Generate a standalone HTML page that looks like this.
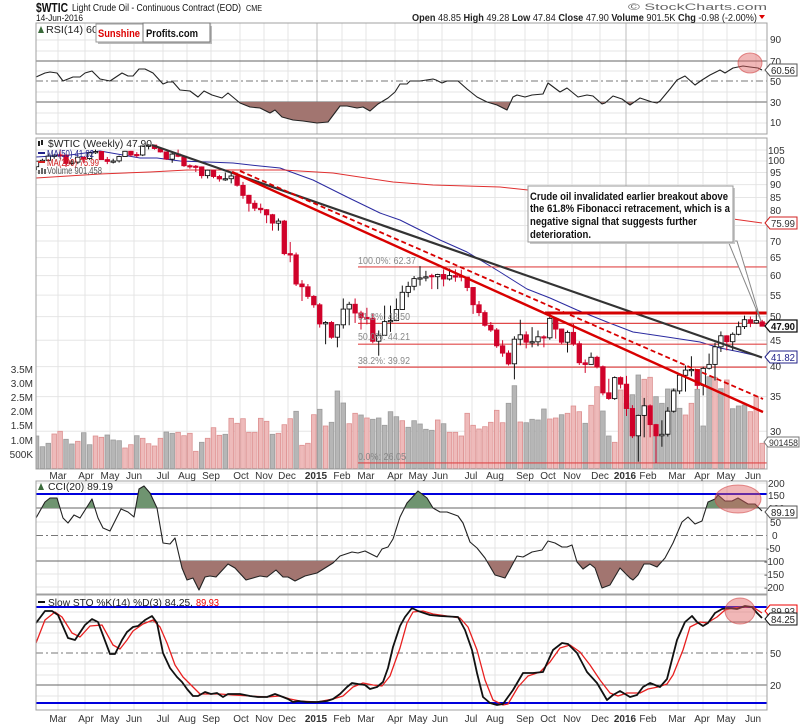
<!DOCTYPE html>
<html><head><meta charset="utf-8">
<style>
html,body{margin:0;padding:0;background:#fff;}
svg{display:block;font-family:"Liberation Sans",Arial,sans-serif;}
</style></head><body>
<svg id="c" width="800" height="725" viewBox="0 0 800 725" xmlns="http://www.w3.org/2000/svg">
<defs>
<clipPath id="rsiLow"><rect x="36" y="102" width="731" height="32"/></clipPath>
<clipPath id="cciHi"><rect x="36" y="481" width="731" height="27"/></clipPath>
<clipPath id="cciLow"><rect x="36" y="561" width="731" height="33"/></clipPath>
<clipPath id="mainC"><rect x="36" y="138" width="731" height="331"/></clipPath>
</defs>
<rect x="0" y="0" width="800" height="725" fill="#fff"/>
<g id="grid"></g>
<g id="lev"></g>
<g id="fill"></g>
<g id="vol" clip-path="url(#mainC)"></g>
<g id="ma" clip-path="url(#mainC)"></g>
<g id="fib"></g>
<g id="cand" clip-path="url(#mainC)"></g>
<g id="trend"></g>
<g id="ind"></g>
<g id="frame"></g>

<!-- circles -->
<ellipse cx="750" cy="63" rx="12" ry="10" fill="rgba(225,95,95,0.45)" stroke="rgba(210,70,70,0.6)" stroke-width="1"/>
<ellipse cx="738" cy="499" rx="23" ry="14" fill="rgba(225,95,95,0.45)" stroke="rgba(210,70,70,0.6)" stroke-width="1"/>
<ellipse cx="740" cy="611" rx="15" ry="13" fill="rgba(225,95,95,0.45)" stroke="rgba(210,70,70,0.6)" stroke-width="1"/>

<!-- callout -->
<polygon points="728,241 737,241 761,321" fill="#fff" stroke="#888" stroke-width="1"/>
<rect x="530" y="188" width="205" height="56" fill="#c8c8c8"/>
<rect x="528" y="186" width="205" height="56" fill="#fff" stroke="#999" stroke-width="1"/>
<g font-size="11" font-weight="bold" fill="#111">
<text x="530" y="200" textLength="198" lengthAdjust="spacingAndGlyphs">Crude oil invalidated earlier breakout above</text>
<text x="530" y="212" textLength="200" lengthAdjust="spacingAndGlyphs">the 61.8% Fibonacci retracement, which is a</text>
<text x="530" y="225" textLength="167" lengthAdjust="spacingAndGlyphs">negative signal that suggests further</text>
<text x="530" y="238" textLength="61" lengthAdjust="spacingAndGlyphs">deterioration.</text>
</g>

<!-- header -->
<text x="36" y="12" font-size="13" font-weight="bold" fill="#111" textLength="32" lengthAdjust="spacingAndGlyphs">$WTIC</text>
<text x="72" y="11" font-size="10" fill="#111" textLength="169" lengthAdjust="spacingAndGlyphs">Light Crude Oil - Continuous Contract (EOD)</text>
<text x="246" y="11" font-size="8" fill="#111" textLength="16" lengthAdjust="spacingAndGlyphs">CME</text>
<text x="36" y="21" font-size="9" fill="#111" textLength="47" lengthAdjust="spacingAndGlyphs">14-Jun-2016</text>
<text x="628" y="10" font-size="9" fill="#666" textLength="139" lengthAdjust="spacingAndGlyphs">© StockCharts.com</text>
<text x="412" y="21" font-size="10" fill="#222" textLength="345" lengthAdjust="spacingAndGlyphs"><tspan font-weight="bold">Open</tspan> 48.85 <tspan font-weight="bold">High</tspan> 49.28 <tspan font-weight="bold">Low</tspan> 47.84 <tspan font-weight="bold">Close</tspan> 47.90 <tspan font-weight="bold">Volume</tspan> 901.5K <tspan font-weight="bold">Chg</tspan> -0.98 (-2.00%)</text>
<polygon points="759,15 765,15 762,19" fill="#d00"/>

<!-- RSI label & logo -->
<polygon points="38,33 41,26 44,33" fill="#3a6a3a"/>
<text x="46" y="33" font-size="10" fill="#222" textLength="52" lengthAdjust="spacingAndGlyphs">RSI(14) 60</text>
<rect x="98" y="26" width="114" height="18" fill="#bbb"/>
<rect x="96" y="24" width="114" height="18" fill="#fff" stroke="#999"/>
<rect x="143" y="23" width="67" height="19" fill="#fff" stroke="#777"/>
<text x="98" y="37" font-size="11" font-weight="bold" fill="#d00" textLength="42" lengthAdjust="spacingAndGlyphs">Sunshine</text>
<text x="146" y="37" font-size="11" font-weight="bold" fill="#111" textLength="52" lengthAdjust="spacingAndGlyphs">Profits.com</text>

<!-- main legend -->
<g font-size="10">
<rect x="38" y="141" width="2" height="5" fill="#222"/><rect x="41" y="140" width="2" height="5" fill="#222"/>
<text x="48" y="147" fill="#222" textLength="104" lengthAdjust="spacingAndGlyphs">$WTIC (Weekly) 47.90</text>
<line x1="38" y1="153" x2="45" y2="153" stroke="#22228a" stroke-width="2"/>
<text x="47" y="157" fill="#22228a" textLength="47" lengthAdjust="spacingAndGlyphs">MA(50) 41.82</text>
<line x1="38" y1="162" x2="45" y2="162" stroke="#d02020" stroke-width="2"/>
<text x="47" y="166" fill="#d02020" textLength="52" lengthAdjust="spacingAndGlyphs">MA(200) 75.99</text>
<rect x="38" y="170" width="2" height="4" fill="#666"/><rect x="41" y="168" width="2" height="6" fill="#666"/><rect x="44" y="169" width="2" height="5" fill="#666"/>
<text x="47" y="174" fill="#555" textLength="55" lengthAdjust="spacingAndGlyphs">Volume 901,458</text>
</g>

<!-- fib labels -->
<g font-size="10" fill="#888">
<text x="358" y="264" textLength="58" lengthAdjust="spacingAndGlyphs">100.0%: 62.37</text>
<text x="358" y="320" textLength="52" lengthAdjust="spacingAndGlyphs">61.8%: 48.50</text>
<text x="358" y="340" textLength="52" lengthAdjust="spacingAndGlyphs">50.0%: 44.21</text>
<text x="358" y="364" textLength="52" lengthAdjust="spacingAndGlyphs">38.2%: 39.92</text>
<text x="358" y="460" textLength="48" lengthAdjust="spacingAndGlyphs">0.0%: 26.05</text>
</g>

<!-- CCI / STO labels -->
<polygon points="38,490 41,483 44,490" fill="#3a6a3a"/>
<text x="48" y="490" font-size="10" fill="#222" textLength="65" lengthAdjust="spacingAndGlyphs">CCI(20) 89.19</text>
<line x1="38" y1="602" x2="45" y2="602" stroke="#111" stroke-width="2"/>
<text x="48" y="606" font-size="10" fill="#222" textLength="145" lengthAdjust="spacingAndGlyphs">Slow STO %K(14) %D(3) 84.25,</text>
<text x="196" y="606" font-size="10" fill="#e00" textLength="23" lengthAdjust="spacingAndGlyphs">89.93</text>

<!-- right axis labels -->
<g font-size="10" fill="#333">
<text x="770" y="43">90</text>
<text x="770" y="65">70</text>
<text x="770" y="85">50</text>
<text x="770" y="106">30</text>
<text x="770" y="126">10</text>

<text x="768" y="154">105</text>
<text x="768" y="164">100</text>
<text x="770" y="176">95</text>
<text x="770" y="188">90</text>
<text x="770" y="201">85</text>
<text x="770" y="214">80</text>
<text x="770" y="245">70</text>
<text x="770" y="261">65</text>
<text x="770" y="279">60</text>
<text x="770" y="299">55</text>
<text x="770" y="320">50</text>
<text x="770" y="344">45</text>
<text x="770" y="370">40</text>
<text x="770" y="400">35</text>
<text x="770" y="435">30</text>

<text x="768" y="487">200</text>
<text x="768" y="499">150</text>
<text x="768" y="512">100</text>
<text x="770" y="526">50</text>
<text x="772" y="539">0</text>
<text x="766" y="552">-50</text>
<text x="764" y="565">-100</text>
<text x="764" y="578">-150</text>
<text x="764" y="591">-200</text>

<text x="770" y="657">50</text>
<text x="770" y="689">20</text>
</g>
<!-- volume axis -->
<g font-size="10" fill="#333" text-anchor="end">
<text x="33" y="373">3.5M</text>
<text x="33" y="387">3.0M</text>
<text x="33" y="401">2.5M</text>
<text x="33" y="415">2.0M</text>
<text x="33" y="429">1.5M</text>
<text x="33" y="444">1.0M</text>
<text x="33" y="458">500K</text>
</g>

<!-- tags -->
<g font-size="10">
<polygon points="765,70 770,64 797,64 797,76 770,76" fill="#fff" stroke="#555"/>
<text x="771" y="74" fill="#222" textLength="24" lengthAdjust="spacingAndGlyphs">60.56</text>
<polygon points="765,223 770,217 797,217 797,229 770,229" fill="#fff" stroke="#d02020"/>
<text x="771" y="227" fill="#333" textLength="24" lengthAdjust="spacingAndGlyphs">75.99</text>
<polygon points="765,326 770,320 797,320 797,332 770,332" fill="#fff" stroke="#111" stroke-width="1.3"/>
<text x="771" y="330" fill="#111" font-weight="bold" textLength="24" lengthAdjust="spacingAndGlyphs">47.90</text>
<polygon points="765,357 770,351 797,351 797,363 770,363" fill="#fff" stroke="#22228a"/>
<text x="771" y="361" fill="#22228a" textLength="24" lengthAdjust="spacingAndGlyphs">41.82</text>
<polygon points="764,442 768,437 799,437 799,447 768,447" fill="#fff" stroke="#777"/>
<text x="769" y="446" fill="#333" font-size="9" textLength="29" lengthAdjust="spacingAndGlyphs">901458</text>
<polygon points="765,512 770,506 797,506 797,518 770,518" fill="#fff" stroke="#555"/>
<text x="771" y="516" fill="#222" textLength="24" lengthAdjust="spacingAndGlyphs">89.19</text>
<polygon points="765,611 770,605 797,605 797,617 770,617" fill="#fff" stroke="#e00"/>
<text x="771" y="615" fill="#333" textLength="24" lengthAdjust="spacingAndGlyphs">89.93</text>
<polygon points="765,619 770,613 797,613 797,625 770,625" fill="#fff" stroke="#111"/>
<text x="771" y="623" fill="#222" textLength="24" lengthAdjust="spacingAndGlyphs">84.25</text>
</g>

<!-- month labels top -->
<g font-size="10" fill="#333" text-anchor="middle">
<text x="58" y="479">Mar</text><text x="86" y="479">Apr</text><text x="110" y="479">May</text><text x="134" y="479">Jun</text>
<text x="163" y="479">Jul</text><text x="187" y="479">Aug</text><text x="211" y="479">Sep</text><text x="241" y="479">Oct</text>
<text x="264" y="479">Nov</text><text x="287" y="479">Dec</text><text x="316" y="479" font-weight="bold">2015</text><text x="342" y="479">Feb</text>
<text x="366" y="479">Mar</text><text x="395" y="479">Apr</text><text x="418" y="479">May</text><text x="440" y="479">Jun</text>
<text x="471" y="479">Jul</text><text x="495" y="479">Aug</text><text x="525" y="479">Sep</text><text x="548" y="479">Oct</text>
<text x="572" y="479">Nov</text><text x="600" y="479">Dec</text><text x="625" y="479" font-weight="bold">2016</text><text x="648" y="479">Feb</text>
<text x="677" y="479">Mar</text><text x="702" y="479">Apr</text><text x="726" y="479">May</text><text x="753" y="479">Jun</text>
</g>
<!-- month labels bottom -->
<g font-size="10" fill="#333" text-anchor="middle">
<text x="58" y="722">Mar</text><text x="86" y="722">Apr</text><text x="110" y="722">May</text><text x="134" y="722">Jun</text>
<text x="163" y="722">Jul</text><text x="187" y="722">Aug</text><text x="211" y="722">Sep</text><text x="241" y="722">Oct</text>
<text x="264" y="722">Nov</text><text x="287" y="722">Dec</text><text x="316" y="722" font-weight="bold">2015</text><text x="342" y="722">Feb</text>
<text x="366" y="722">Mar</text><text x="395" y="722">Apr</text><text x="418" y="722">May</text><text x="440" y="722">Jun</text>
<text x="471" y="722">Jul</text><text x="495" y="722">Aug</text><text x="525" y="722">Sep</text><text x="548" y="722">Oct</text>
<text x="572" y="722">Nov</text><text x="600" y="722">Dec</text><text x="625" y="722" font-weight="bold">2016</text><text x="648" y="722">Feb</text>
<text x="677" y="722">Mar</text><text x="702" y="722">Apr</text><text x="726" y="722">May</text><text x="753" y="722">Jun</text>
</g>
</svg>
<script>
(function(){
var S='http://www.w3.org/2000/svg';
function E(g,t,a){var e=document.createElementNS(S,t);for(var k in a)e.setAttribute(k,a[k]);document.getElementById(g).appendChild(e);return e;}
function ln(g,x1,y1,x2,y2,c,w,d){var a={x1:x1,y1:y1,x2:x2,y2:y2,stroke:c,'stroke-width':w};if(d)a['stroke-dasharray']=d;E(g,'line',a);}
function pl(g,pts,c,w,d){var a={points:pts,fill:'none',stroke:c,'stroke-width':w,'stroke-linejoin':'round'};if(d)a['stroke-dasharray']=d;E(g,'polyline',a);}
var X0=36,X1=767;
function py(p){return 150+(Math.log(105)-Math.log(p))*224.5;}
var vx=[58,85,110,134,163,187,211,240,264,288,317,342,366,395,418,442,472,495,525,548,572,600,626,649,678,703,727,756];
var P=[[23,134],[138,469],[481,594],[595,710]];
// horizontal grid
[40,51,71,92,113,123].forEach(function(y){ln('grid',X0,y,X1,y,'#e6e6e6',1);});
[105,100,95,90,85,80,75,70,65,60,55,50,45,40,35,30].forEach(function(p){var y=py(p);ln('grid',X0,y,X1,y,'#e6e6e6',1);});
[483,522,548,574,587].forEach(function(y){ln('grid',X0,y,X1,y,'#e6e6e6',1);});
[612,633,643,664,675,696].forEach(function(y){ln('grid',X0,y,X1,y,'#e6e6e6',1);});
P.forEach(function(p){vx.forEach(function(x){var yr=(x==317||x==626);ln('grid',x,p[0],x,p[1],yr?'#bdbdbd':'#e4e4e4',1);});});
// level lines
ln('lev',X0,61,X1,61,'#666',1);ln('lev',X0,102,X1,102,'#666',1);ln('lev',X0,81,X1,81,'#777',1,'7,3,2,3');
ln('lev',X0,508,X1,508,'#666',1);ln('lev',X0,561,X1,561,'#666',1);ln('lev',X0,535.5,X1,535.5,'#777',1,'7,3,2,3');
ln('lev',X0,622,X1,622,'#666',1);ln('lev',X0,685,X1,685,'#666',1);ln('lev',X0,653,X1,653,'#777',1,'7,3,2,3');
// indicator data
var RSI='36,77 45,73 50,72 57,73 63,81 68,79 73,77 80,77 85,73 92,71 100,79 110,81 122,73 128,76 133,76 139,69 145,69 153,73 163,84 168,82 173,82 180,90 190,91 198,97 204,91 212,95 222,98 228,93 240,103 250,107 260,108 270,113 275,110 282,117 293,120 303,121 317,123 328,122 340,106 347,106 357,108 363,107 370,111 378,104 388,98 395,92 400,84 407,84 410,81 420,81 433,79 436,80 442,83 447,81 458,81 467,89 477,97 487,102 497,105 507,110 513,97 517,95 525,97 532,95 543,94 548,83 560,92 567,88 578,97 587,95 593,96 602,104 605,103 613,96 622,99 630,105 640,98 652,102 657,103 660,101 670,89 677,80 685,76 695,85 702,80 710,75 720,70 725,73 733,68 743,66 750,67 758,68 762,70';
var CCI='36,518 45,502 50,498 57,498 63,518 68,523 74,515 80,518 92,499 98,518 103,528 110,531 121,509 128,512 134,517 139,489 144,486 150,493 157,508 163,543 170,544 175,538 182,568 187,580 193,578 199,590 205,577 210,576 216,577 228,564 235,568 246,580 260,576 267,577 276,570 283,577 288,577 295,581 305,576 317,573 325,568 333,563 340,556 352,552 358,553 365,551 377,557 382,549 388,547 393,539 400,517 407,503 418,491 427,498 433,508 440,512 447,512 458,516 463,523 470,542 477,548 485,558 495,575 505,578 510,569 517,556 523,557 532,552 542,550 548,541 555,543 562,547 567,547 572,545 577,562 583,569 590,564 595,568 602,588 610,585 620,568 630,578 633,580 638,575 644,564 650,564 657,567 665,558 673,543 682,522 688,517 695,524 702,521 708,502 715,499 718,495 725,501 732,501 738,498 748,504 755,504 762,511';
var SK='36,623 45,611 52,611 58,615 68,638 75,640 85,625 92,619 98,622 110,654 115,654 122,640 127,632 133,627 138,626 145,620 152,616 157,623 163,653 170,668 177,677 182,682 187,689 193,696 198,696 205,692 211,694 217,693 223,697 228,694 240,694 250,696 258,697 267,697 275,694 283,697 288,699 293,702 298,701 307,702 317,702 327,701 333,699 340,694 347,687 352,683 358,684 365,685 370,689 377,687 383,682 388,668 393,647 400,626 405,617 412,608 418,611 430,615 440,616 458,617 465,630 472,650 477,673 483,697 490,703 497,705 503,704 513,690 523,673 533,673 543,672 553,650 562,643 568,644 577,653 587,672 597,683 607,700 613,695 620,691 630,697 637,695 643,687 650,683 660,687 667,679 677,640 685,622 692,616 697,622 703,626 708,623 715,613 722,609 728,608 737,609 745,606 752,607 757,613 762,618';
var SD='36,643 45,620 55,612 62,617 72,633 80,637 90,626 102,625 113,645 120,649 127,640 133,631 143,624 153,620 160,627 167,643 175,665 183,677 192,686 200,694 207,694 220,694 233,695 250,696 267,697 280,696 290,699 300,701 317,702 333,699 343,696 353,687 363,683 373,685 382,686 390,676 400,648 407,623 413,612 423,611 433,614 447,616 460,618 468,627 477,650 485,680 493,700 503,705 508,704 518,687 528,676 540,672 550,662 560,648 570,645 580,652 590,665 600,680 610,693 618,696 627,693 640,693 648,689 658,687 667,684 673,675 683,650 690,627 700,622 707,623 717,617 725,610 733,608 743,607 753,607 762,613';
// fills
E('fill','polygon',{points:RSI+' 762,102 36,102',fill:'#a27570','clip-path':'url(#rsiLow)'});
E('fill','polygon',{points:CCI+' 762,508 36,508',fill:'#6f9470','clip-path':'url(#cciHi)'});
E('fill','polygon',{points:CCI+' 762,561 36,561',fill:'#a27570','clip-path':'url(#cciLow)'});
// blue lines
ln('lev',X0,494,X1,494,'#0000dd',2);ln('lev',X0,607,X1,607,'#0000dd',2);ln('lev',X0,703,X1,703,'#0000dd',2);
// indicator lines
pl('ind',RSI,'#222',1.1);
pl('ind',CCI,'#222',1.1);
pl('ind',SD,'#e82020',1.3);
pl('ind',SK,'#111',1.8);
// volume
var V='g438,g470,g460,p432,p424,g448,g462,p454,g428,g464,p438,p442,g435,g450,g452,p474,p464,g437,p445,p461,p468,p445,g426,g430,p427,p437,p430,p484,g457,p445,p413,p436,g433,p385,p400,p386,p427,p427,p385,p394,g433,p430,p404,p386,g364,p466,p460,p374,g358,p408,g397,g303,g339,p401,p370,g375,p384,g388,g384,g406,g365,g380,p392,g412,g392,g402,g418,g421,p390,g401,p427,p427,p438,p370,p406,p417,p410,p397,p361,p398,g340,g287,p396,g398,g388,g390,g357,p387,p384,g374,p370,p348,p365,g400,p346,p290,g363,g438,p457,p300,g340,g314,g255,p268,p262,g320,g340,g297,g297,g355,p375,p340,g298,g408,g260,p262,g296,p270,g356,g348,g345,p365,p320,p460'.split(',');
function cx(i){return 36.5+5.9*i;}
V.forEach(function(s,i){var t=290+parseFloat(s.slice(1))/3;var g=s[0]=='g';
E('vol','rect',{x:(cx(i)-2.3).toFixed(1),y:t.toFixed(1),width:4.6,height:(468.5-t).toFixed(1),fill:g?'#b6b6b6':'#eebaba',stroke:g?'#9c9c9c':'#dd9090','stroke-width':0.8});});
// MAs
pl('ma','36,157 70,155 100,151 140,158 157,158 180,161 207,162 233,163 260,166 280,168 313,180 347,197 380,213 400,220 420,230 440,240 467,252 500,272 527,289 550,298 577,310 607,322 633,332 667,337 700,342 720,348 740,352 762,357','#2a2aa0',1);
pl('ma','36,178 100,174 150,172 187,170 233,170 283,170 333,173 393,182 433,185 500,187 528,190 733,219 762,223','#e03030',1);
// fib
[62.37,48.50,44.21,39.92,26.05].forEach(function(p){var y=py(p);ln('fib',358,y,767,y,'#e04848',1.2);});
// candles
var D=[[97.5,100.0,96.0,99.9],[99.9,101.0,99.2,100.3],[100.3,103.4,100.0,102.2],[102.2,103.0,101.0,102.6],[102.8,105.2,101.0,102.6],[102.6,103.0,97.4,98.9],[98.9,100.7,98.0,99.5],[99.5,102.0,98.6,101.7],[101.7,102.0,98.9,101.1],[101.1,104.0,100.5,103.7],[103.7,105.2,103.2,104.3],[104.3,104.5,100.6,100.6],[100.6,101.8,98.6,99.8],[99.8,101.0,98.9,100.0],[100.0,102.4,99.3,102.0],[102.0,104.6,101.9,104.4],[104.4,104.6,101.9,102.7],[102.9,104.0,101.6,102.7],[102.7,107.0,102.2,106.9],[106.9,107.7,105.3,107.3],[107.3,107.5,105.2,105.7],[105.7,106.0,103.8,104.1],[104.1,104.2,100.5,100.8],[100.8,103.8,99.2,103.1],[103.1,105.2,101.7,102.1],[102.1,102.2,97.4,97.9],[97.9,98.5,96.6,97.7],[97.7,98.2,95.2,97.4],[97.4,97.6,92.5,93.7],[93.7,96.2,92.5,95.96],[95.96,96.0,92.6,93.3],[93.3,94.0,91.2,92.3],[92.3,95.0,91.5,92.4],[92.4,94.6,90.5,93.5],[93.5,94.9,89.2,89.7],[89.7,91.1,84.5,85.8],[85.8,86.0,79.8,82.8],[82.8,83.9,80.0,81.0],[81.0,82.7,79.2,80.5],[80.5,80.7,75.8,78.7],[78.7,79.0,73.3,75.8],[75.8,77.4,73.3,76.5],[76.5,76.9,65.7,66.2],[66.2,69.7,63.7,65.8],[65.8,66.5,57.3,57.8],[57.8,58.8,53.6,57.1],[57.1,57.8,54.1,54.7],[54.7,55.0,52.0,52.7],[52.7,53.1,47.6,48.4],[48.4,49.0,44.2,48.7],[48.7,49.0,45.3,45.6],[45.6,48.3,43.6,48.2],[48.2,54.2,47.4,51.7],[51.7,53.4,48.1,52.8],[52.8,54.2,48.6,50.8],[50.8,51.3,47.2,49.8],[49.8,52.0,48.3,49.6],[49.6,50.6,44.4,44.8],[44.8,47.0,42.0,46.0],[46.0,52.5,46.0,48.9],[48.9,52.5,46.7,49.1],[49.1,54.2,49.0,51.6],[51.6,57.4,51.5,55.7],[55.7,58.4,54.5,57.2],[57.2,59.9,56.2,59.2],[59.2,62.6,57.4,59.4],[59.4,61.3,58.5,59.7],[60.0,60.5,56.5,59.7],[59.7,60.5,56.5,60.3],[60.3,61.7,57.2,59.1],[59.1,61.9,58.7,60.0],[60.0,61.7,58.4,59.6],[59.9,61.6,58.5,59.6],[59.6,59.7,56.0,56.9],[56.9,57.0,50.6,52.7],[52.7,53.6,50.1,50.9],[50.9,51.4,47.8,48.1],[48.1,48.8,46.7,47.1],[47.1,47.5,43.5,43.9],[43.9,45.0,41.8,42.5],[42.5,43.0,40.2,40.5],[40.5,45.8,37.8,45.2],[45.2,49.3,44.0,46.1],[46.1,46.8,43.4,44.6],[44.6,47.7,43.6,44.7],[44.7,47.0,43.8,45.7],[45.7,46.0,43.6,45.5],[45.5,50.9,45.1,49.6],[49.6,49.9,45.3,47.3],[47.3,47.4,44.2,44.6],[44.6,47.0,42.6,46.6],[46.6,48.4,43.9,44.3],[44.3,44.8,40.3,40.7],[40.7,41.3,38.9,40.4],[40.4,42.6,40.4,41.7],[41.7,42.0,39.7,40.0],[40.0,40.2,35.2,35.6],[35.6,37.9,34.5,34.7],[34.7,38.3,34.5,38.1],[38.1,38.3,36.3,37.0],[37.0,38.4,32.1,33.2],[33.2,33.7,29.1,29.4],[29.4,32.3,26.2,32.2],[32.2,34.8,29.2,33.6],[33.6,33.8,29.2,30.9],[30.9,31.0,26.05,29.4],[29.4,31.5,28.0,29.6],[29.6,33.4,29.3,32.8],[32.8,36.3,32.6,35.9],[35.9,38.5,35.4,38.5],[38.5,40.2,35.8,39.4],[39.4,41.9,38.3,39.5],[39.5,39.6,36.2,36.8],[36.8,40.0,35.2,39.7],[39.7,42.4,39.5,40.4],[40.4,44.5,37.6,43.7],[43.7,46.8,42.7,45.9],[45.9,46.0,43.0,44.7],[44.7,46.6,43.0,46.2],[46.2,48.9,46.0,47.8],[47.8,50.2,47.3,49.3],[49.3,50.0,47.7,48.6],[48.6,51.7,48.4,49.1],[48.85,49.28,47.84,47.90]];
D.forEach(function(d,i){var x=cx(i),o=d[0],h=d[1],l=d[2],c=d[3];var up=c>=o;var col=up?'#111':'#d0022a';
ln('cand',x,py(h),x,py(l),col,1);
var t=py(Math.max(o,c)),b=py(Math.min(o,c));if(b-t<1.2){b=t+1.2;}
E('cand','rect',{x:(x-2.2).toFixed(1),y:t.toFixed(1),width:4.4,height:(b-t).toFixed(1),fill:up?'#fff':'#d0022a',stroke:col,'stroke-width':0.9});});
// trendlines
ln('trend',152,145,762,357.5,'#333',2.2);
ln('trend',240,171,763,399,'#d80000',1.8,'5,3');
ln('trend',232,172,763,412,'#d80000',2.4);
ln('trend',545,313,767,313,'#d40000',3);
// frames
P.forEach(function(p){E('frame','rect',{x:X0,y:p[0],width:X1-X0,height:p[1]-p[0],fill:'none',stroke:'#a0a0a0','stroke-width':1});});
})();
</script>
</body></html>
